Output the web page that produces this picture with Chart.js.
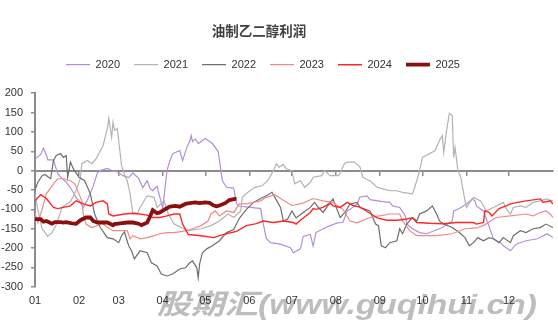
<!DOCTYPE html>
<html lang="zh-CN">
<head>
<meta charset="utf-8">
<title>油制乙二醇利润</title>
<script src="https://cdn.jsdelivr.net/npm/chart.js@4.4.1/dist/chart.umd.min.js"></script>
<style>
    html, body { margin: 0; padding: 0; background: #fff; }
    #wrap { width: 558px; height: 335px; position: relative; }
</style>
</head>
<body>
<div id="wrap"><canvas id="grafico_lucro"></canvas></div>
<script>
// lucro por ano: [dia do ano, yuan/t]
const anos = ['2020', '2021', '2022', '2023', '2024', '2025'];
const cores = ['#b28fd8', '#b3b3b3', '#6e6e6e', '#f08a8a', '#ff2626', '#8b0f0f'];
const espessuras = [1.2, 1.2, 1.2, 1.2, 1.4, 3.8];

const lucro2020 = [[0,30],[4,42],[6,58],[8,40],[9,28],[13,28],[16,-8],[19,-20],[22,-30],[26,-50],[29,-70],[32,-82],[34,-95],[37,-75],[41,-40],[44,-5],[46,0],[51,6],[54,0],[58,-3],[62,-13],[66,-18],[69,-6],[73,-20],[76,-44],[79,-26],[81,-45],[83,-52],[86,-40],[88,-69],[90,-97],[93,0],[95,25],[97,44],[102,52],[104,26],[107,60],[109,75],[110,91],[111,75],[113,82],[115,70],[120,83],[125,70],[129,50],[130,26],[132,-26],[135,-43],[140,-45],[142,-86],[144,-92],[152,-95],[159,-98],[161,-140],[163,-175],[166,-186],[173,-190],[180,-199],[182,-212],[187,-202],[189,-170],[194,-165],[196,-195],[198,-160],[203,-150],[208,-142],[213,-135],[217,-134],[220,-104],[222,-100],[227,-86],[229,-68],[234,-65],[236,-75],[245,-80],[250,-82],[252,-91],[257,-95],[261,-117],[262,-138],[266,-150],[271,-160],[276,-163],[287,-147],[294,-130],[295,-104],[299,-98],[304,-86],[308,-73],[310,-78],[311,-91],[316,-104],[321,-155],[323,-176],[328,-186],[330,-194],[335,-207],[339,-190],[346,-181],[354,-176],[361,-163],[365,-173]];

const lucro2021 = [[0,-60],[2,-100],[5,-150],[9,-170],[12,-160],[15,-140],[19,-95],[25,-80],[28,-60],[32,-20],[33,18],[37,26],[40,18],[43,30],[48,65],[51,109],[52,135],[54,86],[55,125],[56,104],[58,109],[61,13],[63,-10],[65,-26],[67,-60],[69,-112],[72,-112],[74,-95],[79,-65],[84,-69],[86,-95],[91,-78],[94,-112],[98,-138],[103,-147],[108,-155],[117,-150],[124,-142],[130,-130],[136,-112],[140,-121],[145,-104],[146,-69],[150,-56],[155,-43],[160,-39],[164,-26],[168,0],[170,18],[172,9],[175,16],[177,5],[181,0],[183,-34],[187,-26],[190,-43],[194,-30],[196,-17],[202,-13],[204,0],[208,-13],[214,-13],[218,18],[220,22],[225,22],[229,9],[231,-17],[233,-21],[236,-26],[241,-43],[245,-47],[250,-52],[255,-52],[259,-56],[266,-60],[269,-26],[271,0],[273,34],[282,52],[285,78],[287,91],[288,47],[290,104],[292,148],[294,142],[295,34],[296,60],[298,0],[300,-17],[303,-78],[304,-95],[309,-69],[314,-78],[318,-104],[323,-95],[330,-82],[332,-98],[335,-112],[337,-95],[342,-91],[346,-95],[351,-82],[356,-78],[360,-73],[365,-78]];

const lucro2022 = [[0,-50],[2,-30],[5,-13],[7,-10],[11,-21],[13,26],[15,39],[18,44],[20,34],[22,39],[23,-17],[25,22],[27,5],[31,-17],[35,-26],[39,-60],[42,-112],[46,-147],[51,-173],[55,-176],[59,-186],[61,-168],[63,-158],[66,-194],[68,-207],[70,-228],[74,-207],[79,-212],[82,-238],[86,-246],[89,-267],[93,-272],[97,-267],[102,-254],[106,-251],[109,-238],[111,-233],[114,-251],[115,-277],[116,-241],[118,-212],[121,-202],[125,-194],[130,-181],[135,-160],[140,-152],[144,-123],[149,-100],[154,-82],[159,-72],[163,-65],[167,-56],[169,-69],[173,-95],[175,-130],[178,-125],[181,-104],[184,-122],[189,-108],[194,-95],[197,-82],[199,-92],[203,-108],[208,-82],[210,-73],[215,-121],[218,-110],[222,-86],[227,-82],[229,-95],[236,-104],[240,-138],[242,-142],[244,-194],[247,-199],[250,-186],[255,-181],[257,-150],[259,-163],[262,-138],[266,-121],[269,-130],[271,-112],[276,-104],[280,-91],[283,-112],[285,-130],[288,-138],[294,-147],[299,-160],[303,-173],[306,-194],[309,-186],[312,-173],[316,-181],[320,-173],[323,-176],[327,-186],[330,-173],[335,-186],[337,-168],[342,-155],[346,-160],[351,-150],[356,-147],[360,-138],[365,-147]];

const lucro2023 = [[0,-110],[2,-135],[5,-100],[8,-60],[13,-34],[16,-21],[20,-21],[25,-26],[28,-34],[31,-60],[33,-78],[34,-112],[36,-138],[40,-147],[44,-142],[47,-134],[51,-147],[55,-155],[60,-155],[65,-155],[67,-176],[69,-168],[74,-176],[79,-173],[84,-168],[88,-163],[93,-160],[98,-160],[107,-155],[111,-150],[117,-142],[122,-130],[124,-112],[127,-104],[130,-117],[135,-104],[140,-108],[144,-86],[149,-86],[154,-82],[159,-78],[163,-69],[169,-62],[173,-72],[181,-90],[189,-84],[196,-72],[203,-78],[210,-82],[217,-100],[222,-130],[227,-135],[236,-121],[243,-117],[250,-112],[257,-112],[259,-130],[264,-155],[269,-168],[283,-168],[294,-163],[303,-150],[311,-148],[316,-142],[321,-130],[325,-121],[335,-117],[346,-112],[351,-117],[356,-108],[360,-104],[363,-112],[365,-121]];

const lucro2024 = [[0,-78],[4,-62],[8,-72],[13,-95],[16,-98],[20,-95],[25,-91],[29,-78],[34,-86],[39,-91],[43,-82],[48,-78],[51,-86],[52,-112],[55,-117],[63,-112],[70,-110],[79,-115],[83,-121],[88,-121],[93,-117],[98,-112],[102,-112],[104,-138],[108,-165],[117,-168],[126,-173],[130,-168],[135,-163],[142,-157],[149,-142],[156,-137],[161,-130],[168,-134],[175,-130],[182,-134],[184,-138],[187,-128],[194,-108],[196,-98],[198,-100],[203,-95],[208,-84],[210,-91],[215,-95],[220,-82],[224,-90],[229,-94],[236,-110],[241,-122],[248,-128],[255,-128],[262,-125],[266,-122],[269,-134],[278,-136],[288,-137],[297,-134],[309,-134],[311,-138],[316,-134],[317,-104],[320,-108],[322,-117],[327,-98],[332,-91],[335,-86],[340,-82],[346,-78],[356,-73],[358,-82],[363,-78],[365,-86]];

const lucro2025 = [[0,-125],[4,-125],[6,-132],[8,-130],[12,-137],[14,-133],[18,-133],[20,-134],[22,-133],[26,-136],[29,-137],[32,-128],[36,-121],[39,-121],[41,-130],[44,-134],[51,-134],[55,-141],[56,-138],[60,-136],[65,-134],[69,-134],[73,-137],[75,-141],[79,-134],[81,-119],[83,-102],[86,-110],[88,-108],[92,-99],[95,-93],[99,-91],[102,-93],[106,-86],[109,-84],[113,-82],[116,-84],[120,-82],[123,-83],[126,-90],[128,-92],[130,-90],[134,-84],[137,-76],[141,-73],[142,-73]];

const series = [lucro2020, lucro2021, lucro2022, lucro2023, lucro2024, lucro2025];

const inicioMes = [0, 31, 59, 90, 120, 151, 181, 212, 243, 273, 304, 334];
const rotulosMes = ['01', '02', '03', '04', '05', '06', '07', '08', '09', '10', '11', '12'];
const ticksY = [-300, -250, -200, -150, -100, -50, 0, 50, 100, 150, 200];

const corEixo = '#8c8c8c';
const corTexto = '#333333';
const fonteNum = { family: 'Arial, "Liberation Sans", sans-serif', size: 11 };

const datasets = series.map((pontos, i) => ({
    label: anos[i],
    data: pontos.map(p => ({ x: p[0], y: p[1] })),
    borderColor: cores[i],
    backgroundColor: cores[i],
    borderWidth: espessuras[i],
    pointRadius: 0,
    tension: 0,
    order: series.length - 1 - i
}));

const marcarMeses = scale => {
    scale.ticks = inicioMes.map(v => ({ value: v }));
};

// titulo e legenda ficam um pouco a esquerda do centro do canvas
const ajusteCabecalho = {
    id: 'ajusteCabecalho',
    afterLayout(chart) {
        if (chart.titleBlock) {
            chart.titleBlock.left -= 18;
            chart.titleBlock.right -= 18;
        }
        if (chart.legend) {
            chart.legend.left -= 14;
            chart.legend.right -= 14;
        }
    }
};

const marcaDagua = {
    id: 'marcaDagua',
    beforeDraw(chart) {
        const ctx = chart.ctx;
        const texto = '股期汇(www.guqihui.cn)';
        ctx.save();
        ctx.font = 'italic bold 28px "Liberation Sans", "Noto Sans CJK SC", sans-serif';
        ctx.fillStyle = '#bdbdbd';
        ctx.textBaseline = 'alphabetic';
        const largura = ctx.measureText(texto).width;
        ctx.translate(157, 314);
        ctx.scale(380 / largura, 1);
        ctx.fillText(texto, 0, 0);
        ctx.restore();
    }
};

const ctxLucro = document.getElementById('grafico_lucro').getContext('2d');
const graficoLucro = new Chart(ctxLucro, {
    type: 'line',
    data: { datasets },
    plugins: [ajusteCabecalho, marcaDagua],
    options: {
        responsive: true,
        maintainAspectRatio: false,
        animation: false,
        devicePixelRatio: 1,
        layout: { padding: { left: 1, right: 5, top: 0, bottom: 19 } },
        plugins: {
            title: {
                display: true,
                text: '油制乙二醇利润',
                color: '#404040',
                font: { family: '"Noto Sans CJK SC", sans-serif', size: 13.5, weight: 'bold' },
                padding: { top: 23, bottom: 6 }
            },
            legend: {
                position: 'top',
                labels: {
                    color: corTexto,
                    font: fonteNum,
                    boxWidth: 24,
                    boxHeight: 0,
                    padding: 14,
                    sort: (a, b) => a.datasetIndex - b.datasetIndex
                }
            },
            tooltip: { enabled: false }
        },
        scales: {
            x: {
                type: 'linear',
                position: 'bottom',
                min: 0,
                max: 365,
                afterBuildTicks: marcarMeses,
                border: { display: false },
                grid: { display: false, drawTicks: false },
                ticks: {
                    color: corTexto,
                    padding: 8,
                    maxRotation: 0,
                    font: fonteNum,
                    callback: (valor, i) => rotulosMes[i]
                }
            },
            xZero: {
                type: 'linear',
                position: { y: 0 },
                min: 0,
                max: 365,
                afterBuildTicks: marcarMeses,
                border: { color: corEixo, width: 2 },
                grid: { drawOnChartArea: false, color: corEixo, tickLength: 4, lineWidth: 1.5 },
                ticks: { display: false }
            },
            xTopo: {
                type: 'linear',
                position: 'top',
                min: 0,
                max: 1,
                border: { display: false },
                grid: { drawOnChartArea: false, color: 'rgba(0,0,0,0)', tickLength: 13 },
                ticks: { display: false }
            },
            y: {
                min: -300,
                max: 200,
                afterBuildTicks: scale => { scale.ticks = ticksY.map(v => ({ value: v })); },
                afterFit: scale => { scale.width = 34; },
                border: { color: corEixo, width: 2 },
                grid: { drawOnChartArea: false, color: corEixo, tickLength: 4, lineWidth: 1.5 },
                ticks: {
                    color: corTexto,
                    padding: 8,
                    font: fonteNum
                }
            }
        }
    }
});
</script>
</body>
</html>
